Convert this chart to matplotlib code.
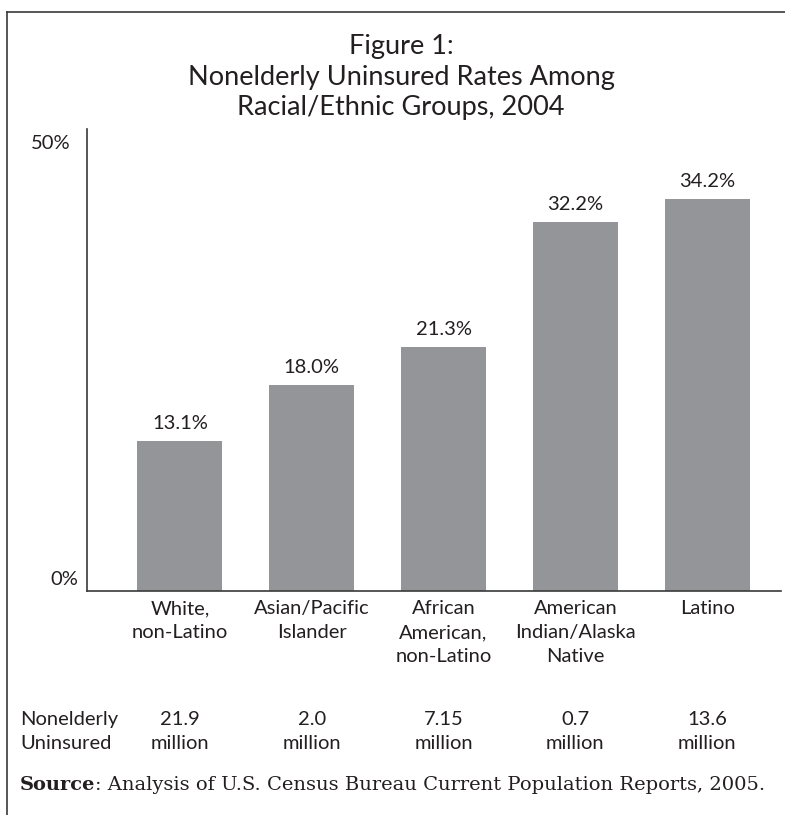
import matplotlib
matplotlib.use('Agg')
import matplotlib.pyplot as plt
import matplotlib.transforms as mtransforms
from matplotlib.lines import Line2D

# Data
groups = ['White,\nnon-Latino', 'Asian/Pacific\nIslander', 'African\nAmerican,\nnon-Latino',
          'American\nIndian/Alaska\nNative', 'Latino']
rates = [13.1, 18.0, 21.3, 32.2, 34.2]
uninsured = ['21.9', '2.0', '7.15', '0.7', '13.6']
ytick_labels = ['0%', '50%']

BAR = '#939598'
TXT = '#231f20'
SANS = ['Lato', 'DejaVu Sans']
W, H = 785, 815

fig = plt.figure(figsize=(W / 100, H / 100), dpi=100)
ax = fig.add_axes([87 / W, 1 - 591 / H, (781 - 87) / W, (591 - 129) / H])

x = list(range(len(groups)))
ax.bar(x, rates, width=0.645, color=BAR)
for xi, r in zip(x, rates):
    ax.annotate(f'{r:.1f}%', (xi, r), xytext=(0, 9), textcoords='offset pixels',
                ha='center', va='bottom', fontsize=14.5, color=TXT, family=SANS)

ytop = 40.3
ax.set_xlim(-0.705, 4.56)
ax.set_ylim(0, ytop)
ax.set_yticks([0, ytop])
ax.set_yticklabels(ytick_labels, fontsize=14.5, color=TXT, family=SANS)
ax.set_xticks([])
ax.tick_params(axis='y', length=0, pad=6)
# nudge the two y labels like the original
offsets = [(0, 13), (-8, -12.5)]
for lab, (dx, dy) in zip(ax.get_yticklabels(), offsets):
    lab.set_transform(lab.get_transform() +
                      mtransforms.ScaledTranslation(dx / 100, dy / 100, fig.dpi_scale_trans))
for s in ['top', 'right']:
    ax.spines[s].set_visible(False)
for s in ['left', 'bottom']:
    ax.spines[s].set_color('#3a3a3a')
    ax.spines[s].set_linewidth(1.2)

# category labels under bars
for xi, g in zip(x, groups):
    ax.annotate(g, (xi, 0), xytext=(0, -9), textcoords='offset pixels',
                ha='center', va='top', fontsize=14.5, color=TXT, family=SANS,
                linespacing=1.5)

# uninsured counts row
fig.text(20 / W, 1 - 711 / H, 'Nonelderly\nUninsured', ha='left', va='top',
         fontsize=14.5, color=TXT, family=SANS, linespacing=1.5)
for xi, u in zip(x, uninsured):
    ax.annotate(f'{u}\nmillion', (xi, 0), xycoords=('data', 'axes fraction'),
                xytext=(0, -(711 - 591)), textcoords='offset pixels',
                ha='center', va='top', fontsize=14.5, color=TXT, family=SANS,
                linespacing=1.5)

# title
fig.text(401 / W, 1 - 77 / H, 'Figure 1:\nNonelderly Uninsured Rates Among\nRacial/Ethnic Groups, 2004',
         ha='center', va='center', fontsize=19.5, color=TXT, family=SANS, linespacing=1.27)

# source
bold = fig.text(20 / W, 1 - 785 / H, 'Source', ha='left', va='center', fontsize=14,
                fontweight='bold', family='DejaVu Serif', color=TXT)
fig.canvas.draw()
bb = bold.get_window_extent()
fig.text(bb.x1 / W, 1 - 785 / H,
         ': Analysis of U.S. Census Bureau Current Population Reports, 2005.',
         ha='left', va='center', fontsize=14, family='DejaVu Serif', color=TXT)

# frame around figure (top and left)
fig.add_artist(Line2D([7 / W, 1], [1 - 12 / H, 1 - 12 / H], transform=fig.transFigure,
                      color='#3a3a3a', lw=1.2))
fig.add_artist(Line2D([7 / W, 7 / W], [0, 1 - 12 / H], transform=fig.transFigure,
                      color='#3a3a3a', lw=1.2))

fig.savefig('out.png', dpi=100)
